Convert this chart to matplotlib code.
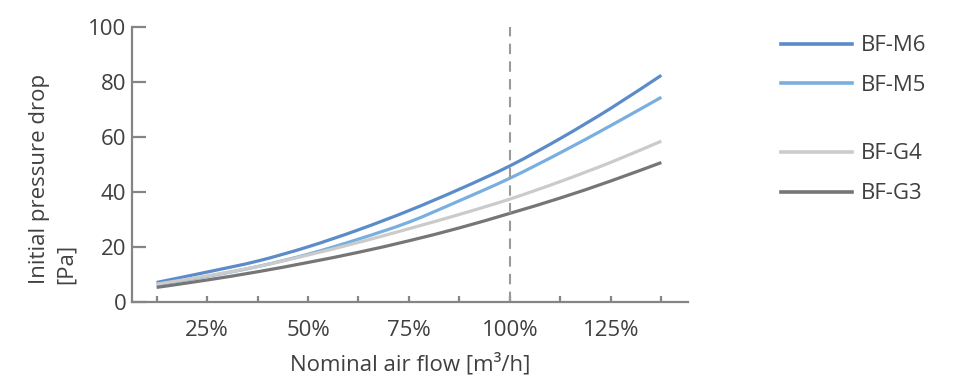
import matplotlib.pyplot as plt
from matplotlib.lines import Line2D
from matplotlib.path import Path
from matplotlib.patches import PathPatch

plt.rcParams['font.family'] = ['Open Sans', 'DejaVu Sans']

# air flow in % of nominal
flow = [12.5, 25, 37.5, 50, 62.5, 75, 87.5, 100, 112.5, 125, 137.5]
tick_labels = ['', '25%', '', '50%', '', '75%', '', '100%', '', '125%', '']

m6 = [7.0, 10.8, 14.8, 20.0, 26.2, 33.2, 41.0, 49.5, 59.5, 70.5, 82.5]
m5 = [6.2, 9.2, 12.8, 17.3, 22.8, 29.0, 36.8, 45.0, 54.3, 64.2, 74.5]
g4 = [6.4, 9.4, 12.8, 17.0, 21.6, 26.6, 31.8, 37.4, 43.8, 50.8, 58.5]
g3 = [5.2, 7.9, 10.9, 14.3, 18.0, 22.2, 26.9, 32.2, 37.8, 44.0, 50.7]

names = ['BF-M6', 'BF-M5', 'BF-G4', 'BF-G3']
colors = ['#5b8bc9', '#79afe0', '#cbcbcb', '#767676']

txt = '#404040'
spine = '#858585'
fs = 16


def smooth_path(x, y):
    # excel style smoothed line: catmull-rom -> bezier segments
    verts = [(x[0], y[0])]
    codes = [Path.MOVETO]
    n = len(x)
    for i in range(n - 1):
        x0, y0 = (x[i - 1], y[i - 1]) if i > 0 else (x[i], y[i])
        x3, y3 = (x[i + 2], y[i + 2]) if i + 2 < n else (x[i + 1], y[i + 1])
        c1 = (x[i] + (x[i + 1] - x0) / 6, y[i] + (y[i + 1] - y0) / 6)
        c2 = (x[i + 1] - (x3 - x[i]) / 6, y[i + 1] - (y3 - y[i]) / 6)
        verts += [c1, c2, (x[i + 1], y[i + 1])]
        codes += [Path.CURVE4] * 3
    return Path(verts, codes)


fig = plt.figure(figsize=(9.55, 3.92), dpi=100)
ax = fig.add_axes([0.1382, 0.2304, 0.5822, 0.700])

for y, c in zip([m6, m5, g4, g3], colors):
    ax.add_patch(PathPatch(smooth_path(flow, y), fill=False, edgecolor=c,
                           lw=2.3, capstyle='butt'))

ax.axvline(100, color='#9a9a9a', lw=1.5, ls=(0, (5, 3.5)))

ax.set_xlim(6.4, 144.1)
ax.set_ylim(0, 100)
ax.set_xticks(flow)
ax.set_xticklabels(tick_labels)
ax.set_yticks([0, 20, 40, 60, 80, 100])

for s in ['top', 'right']:
    ax.spines[s].set_visible(False)
for s in ['left', 'bottom']:
    ax.spines[s].set_color(spine)
    ax.spines[s].set_linewidth(1.6)

ax.tick_params(axis='x', direction='in', length=4.5, width=1.6, color=spine,
               labelsize=fs, labelcolor=txt, pad=13)
ax.tick_params(axis='y', direction='in', length=10, width=1.6, color=spine,
               labelsize=fs, labelcolor=txt, pad=4)

ax.set_xlabel('Nominal air flow [m³/h]', fontsize=fs, color=txt, labelpad=9)
ax.set_ylabel('Initial pressure drop\n[Pa]', fontsize=fs, color=txt,
              multialignment='left', linespacing=1.35, labelpad=8, y=0.449)

h = [Line2D([], [], color=c, lw=2.6) for c in colors]
kw = dict(loc='upper left', frameon=False, fontsize=fs, handlelength=3.2,
          handletextpad=0.42, labelspacing=0.85, labelcolor=txt,
          borderaxespad=0, borderpad=0)
fig.legend(h[:2], names[:2], bbox_to_anchor=(0.8176, 0.910), **kw)
fig.legend(h[2:], names[2:], bbox_to_anchor=(0.8176, 0.634), **kw)

fig.savefig('out.png', dpi=100)
